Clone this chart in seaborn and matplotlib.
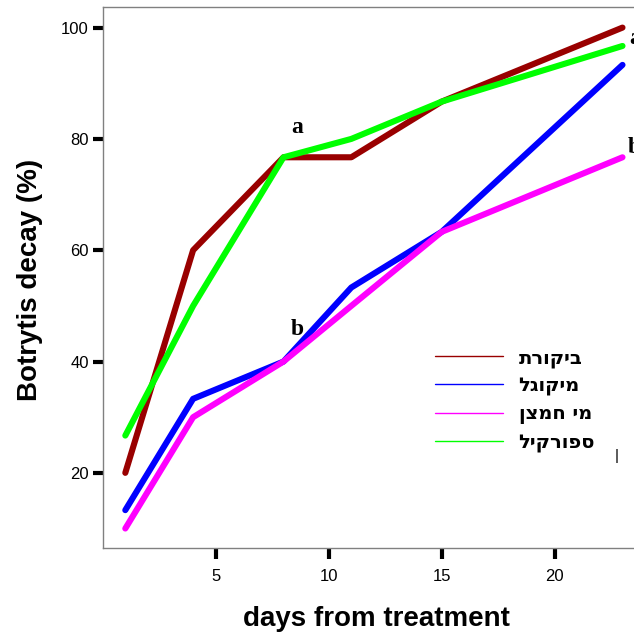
import pandas as pd
import matplotlib
matplotlib.use("Agg")
import matplotlib.pyplot as plt
import seaborn as sns

# data
days = [1, 4, 8, 11, 15, 23]
treatments = ["ביקורת", "מיקוגל", "מי חמצן", "ספורקיל"]
control = [20.0, 60.0, 76.7, 76.7, 86.7, 100.0]
mycogel = [13.3, 33.3, 40.0, 53.3, 63.3, 93.3]
peroxide = [10.0, 30.0, 40.0, 50.0, 63.3, 76.7]
sporekill = [26.7, 50.0, 76.7, 80.0, 86.7, 96.7]
colors = ["#990000", "#0000ff", "#ff00ff", "#00ff00"]

series = [control, mycogel, peroxide, sporekill]
rows = []
for name, vals in zip(treatments, series):
    for d, v in zip(days, vals):
        rows.append({"day": d, "decay": v, "treatment": name})
df = pd.DataFrame(rows)

sns.set_style("white", {"xtick.bottom": True, "ytick.left": True,
                        "text.color": "black", "axes.labelcolor": "black",
                        "xtick.color": "black", "ytick.color": "black"})
plt.rcParams["font.family"] = ["Liberation Sans", "DejaVu Sans"]

fig = plt.figure(figsize=(6.34, 6.39), dpi=100)
ax = fig.add_axes([102.7 / 634, (639 - 548) / 639, 565 / 634, 541 / 639])

sns.lineplot(data=df, x="day", y="decay", hue="treatment", hue_order=treatments,
             palette=colors, linewidth=4.4, solid_capstyle="round", ax=ax)

ax.set_xlim(0, 25)
ax.set_ylim(6.5, 103.7)
ax.set_xticks([5, 10, 15, 20])
ax.set_yticks([20, 40, 60, 80, 100])
ax.tick_params(axis="x", bottom=True, length=8, width=3, color="black",
               labelcolor="black", pad=7, labelsize=12)
ax.tick_params(axis="y", left=True, length=7, width=3, color="black",
               labelcolor="black", pad=3, labelsize=12)
for s in ax.spines.values():
    s.set_color("#808080")
    s.set_linewidth(1)

ax.set_xlabel("days from treatment", fontsize=20, fontweight="bold", color="black")
ax.set_ylabel("Botrytis decay (%)", fontsize=20, fontweight="bold", color="black")
ax.xaxis.set_label_coords((376 - 102.7) / 565, -(619 - 548) / 541)
ax.yaxis.set_label_coords(-(102.7 - 30) / 565, (548 - 280) / 541)
ax.xaxis.label.set_va("center")
ax.yaxis.label.set_va("center")

# significance letters
serif = ["Liberation Serif", "DejaVu Serif"]
ax.text(8.6, 82, "a", fontsize=17, fontweight="bold", family=serif, ha="center", va="center")
ax.text(8.6, 45.7, "b", fontsize=17, fontweight="bold", family=serif, ha="center", va="center")
ax.text(23.3, 98.1, "a", fontsize=17, fontweight="bold", family=serif, ha="left", va="center")
ax.text(23.25, 78.5, "b", fontsize=17, fontweight="bold", family=serif, ha="left", va="center")

# legend: hebrew labels reversed for right-to-left display
handles, labels = ax.get_legend_handles_labels()
for h in handles:
    h.set_linewidth(1)
leg = ax.legend(handles, [l[::-1] for l in labels], frameon=False,
                loc="upper left", bbox_to_anchor=(435 / 634, (639 - 348) / 639),
                bbox_transform=fig.transFigure, borderpad=0, borderaxespad=0,
                handlelength=3.5, handletextpad=0.8, labelspacing=0.45,
                prop={"family": ["DejaVu Sans"], "weight": "bold", "size": 14})
for t in leg.get_texts():
    t.set_color("black")
fig.text(617 / 634, (639 - 456) / 639, "|", fontsize=11, ha="center", va="center")

fig.savefig("out.png", dpi=100)
